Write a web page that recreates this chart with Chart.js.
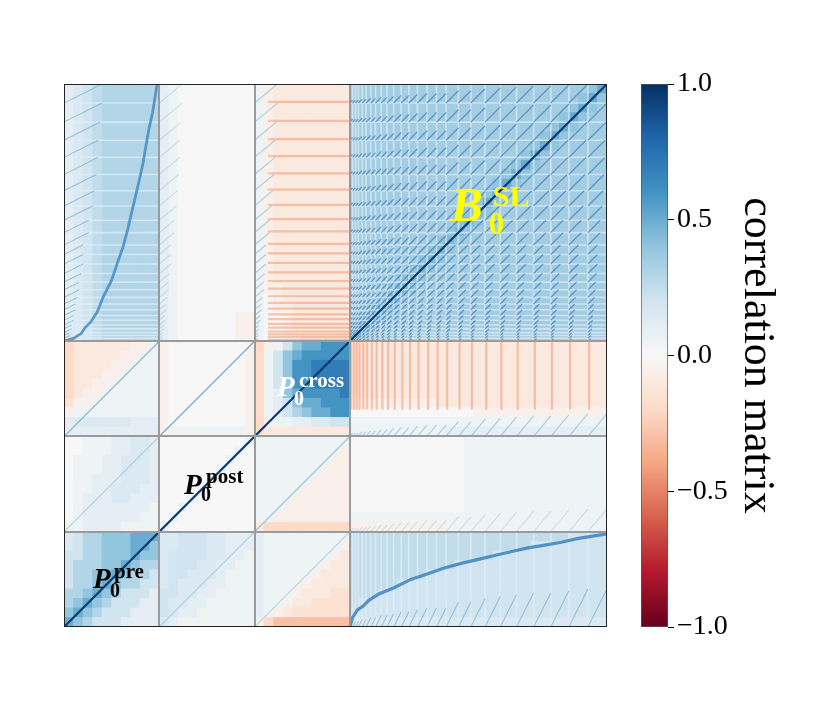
<!DOCTYPE html>
<html><head><meta charset="utf-8">
<script src="https://cdn.jsdelivr.net/npm/chart.js@4.4.1/dist/chart.umd.min.js"></script>
<style>
html,body{margin:0;padding:0;background:#fff;}
#wrap{position:relative;width:831px;height:704px;background:#fff;}
#c1{position:absolute;left:0;top:0;}
#c2{position:absolute;left:620px;top:0;}
</style></head><body>
<div id="wrap"><canvas id="c1" width="620" height="704"></canvas><canvas id="c2" width="211" height="704"></canvas></div>
<script>
// ---------------- data ----------------
const blockNames = ['pre', 'post', 'cross', 'SL'];
const blockEdges = [0, 100, 200, 300, 570];          // parameter index boundaries
const slSizes = [3,3,3,4,4,5,5,6,6,7,8,8,9,10,10,10,13,13,15,16,17,18,18,19,20,20]; // SL sub-blocks
const cellSize = 10;
// ridge of strong SL-pre correlation: [SL index, pre index]
const bandCurve = [[300,0],[303,10],[308,18],[314,22],[320,28],[331,35],[346,41],[364,50],[382,56],[399,62],
  [418,67],[435,71],[452,75],[469,79],[487,83],[505,86],[522,89],[540,93],[565,97],[570,98]];
// correlation levels (row strings, top row first; blocks pre | post | cross | SL)
const levelCodes = {'0':0, '.':0.05, '1':0.1, 'h':0.15, '2':0.2, 'j':0.25, '3':0.3, 'k':0.35, '4':0.4, 'm':0.45,
  '5':0.5, '6':0.6, '7':0.7, '8':0.8, '9':0.9, 'X':1, ',':-0.05, 'a':-0.1, 'q':-0.15, 'b':-0.2, 'c':-0.3, 'd':-0.4};
const rowsSL = [
"1h2j333333 1.00000000 .,aaaaaaaa kkkkkkkkk kkkkkkkkk kkkkkkk45",
"1h2j333333 1.00000000 .,aaaaaaaa kkkkkkkkk kkkkkkkkk kkkkkk454",
"1h2j333333 1.00000000 .,aaaaaaaa kkkkkkkkk kkkkkkkkk kkkkk454k",
"1h2j333333 1.00000000 .,aaaaaaaa kkkkkkkkk kkkkkkkkk kkkk454kk",
"1h2j333333 1.00000000 .,aaaaaaaa kkkkkkkkk kkkkkkkkk kkk454kkk",
"1h2j333333 1.00000000 .,aaaaaaaa kkkkkkkkk kkkkkkkkk kk454kkkk",
"1h2j333333 1.00000000 .,aaaaaaaa kkkkkkkkk kkkkkkkkk k454kkkkk",
"1h2j333333 1.00000000 .,aaaaaaaa kkkkkkkkk kkkkkkkkk 454kkkkkk",
"1h2j333333 1.00000000 .,aaaaaaaa kkkkkkkkk kkkkkkkk4 54kkkkkkk",
"1h2j333333 1.00000000 .,aaaaaaaa kkkkkkkkk kkkkkkk45 4kkkkkkkk",
"1h2j333333 1.00000000 .,aaaaaaaa kkkkkkkkk kkkkkk454 kkkkkkkkk",
"1h2j333333 1.00000000 .,aaaaaaaa kkkkkkkkk kkkkk454k kkkkkkkkk",
"1h2j333333 1.00000000 .,aaaaaaaa kkkkkkkkk kkkk454kk kkkkkkkkk",
"1h2j333333 1.00000000 .,aaaaaaaa kkkkkkkkk kkk4m4kkk kkkkkkkkk",
"1h2j333333 1.00000000 .,aaaaaaaa kkkkkkkkk kk4m4kkkk kkkkkkkkk",
"1h2j333333 1.00000000 .,aaaaaaaa kkkkkkkkk k4m4kkkkk kkkkkkkkk",
"1h2j333333 1.00000000 .,aaaaaaaa kkkkkkkkk 4m4kkkkkk kkkkkkkkk",
"1h2j333333 1.00000000 .,aaaaaaaa kkkkkkkk4 m4kkkkkkk kkkkkkkkk",
"1h2j333333 1.00000000 .,aaaaaaaa kkkkkkk4m 4kkkkkkkk kkkkkkkkk",
"1h2j333333 1.00000000 .,aaaaaaaa kkkkkk4m4 kkkkkkkkk kkkkkkkkk",
"1h2j333333 1.00000000 .,aaaaaaaa kkkkk4m4k kkkkkkkkk kkkkkkkkk",
"1h2j333333 1.00000000 .,,aaaaaaa kkkk4m4kk kkkkkkkkk kkkkkkkkk",
"1h2j333333 1.00000000 .0,aaaaaaa kkk4m4kkk kkkkkkkkk kkkkkkkkk",
"1h2j333333 1.00000000 .0,,aaaaaa kk4m4kkkk kkkkkkkkk kkkkkkkkk",
"1h2j333333 1.000000,, .00,aaaaaa k4m4kkkkk kkkkkkkkk kkkkkkkkk",
"1h2j333333 1.000000,, .00,aaaaaa 4m4kkkkkk kkkkkkkkk kkkkkkkkk",
"2h2j333333 1.000000,, .00,,aaaaa m4kkkkkkk kkkkkkkkk kkkkkkkkk"
];
const rowsCross = [
"baaaaaa,,. ,00000000, b,.2455666 aaaaaaaaa aaaaaaaaa aaaaaaaaa",
"baaaaa,,.. ,00000000, b.24566666 aaaaaaaaa aaaaaaaaa aaaaaaaaa",
"baaaa,,... ,00000000, b.24667777 aaaaaaaaa aaaaaaaaa aaaaaaaaa",
"baaa,,.... ,00000000, b.24667777 aaaaaaaaa aaaaaaaaa aaaaaaaaa",
"baa,,..... ,00000000, b.24667777 aaaaaaaaa aaaaaaaaa aaaaaaaaa",
"ba,,...... ,00000000, b.14566667 aaaaaaaaa aaaaaaaaa aaaaaaaaa",
"q,,....... ,00000000, b.12455666 ,,,,,,,,, aaaaaaaaa aaaaaaaaa",
",......... ,00000000, b.12345566 000000000 0000,,,,, ,,,,,,,,,",
"1hhhhhh111 ,00000000, b,..11hh22 ......... ......... .........",
"1111111111 ,........, baaaaaaaaa ......... .11111111 111111111"
];
const rowsPost = [
"00...11hh1 000000000. .......... 000000000 000...... .........",
"00...11hh1 00000000.0 ........., 000000000 000...... .........",
"0...11hhh1 0000000.00 ........,, 000000000 000...... .........",
"0...11hhh1 000000.000 .......,,, 000000000 000...... .........",
"0..111hhh1 00000.0000 ......,,,, 000000000 000...... .........",
"0..11hhh11 0000.00000 .....,,,,, 000000000 000...... .........",
"0.111hh111 000.000000 ....,,,,,, 000000000 000...... .........",
"0.1111111. 00.0000000 ...,,,,,,, 000000000 000...... .........",
"0.111111.. 0.00000000 ..,,,,,,,, ......... ......... .........",
"..1111.... .000000000 abbbbbbbbb ,,,,,,,,, ,........ ........."
];
const rowsPre = [
"h233444555 hh222hh111 1......... jjjjjjjjj jjjjjjjjj jjjjj2222",
"h233444554 hh222hh111 1........, jjjjjjjjj jjjjjjjjj j22222222",
"2233444544 h2222hh11. 1.......,a jjjjjjjjj jjjjjj222 222222222",
"2333445433 h222hh11.. 1......,aa jjjjjjjjj jj2222222 222222222",
"2334454332 h22hhh1... 1.....,aaa jjjjjjjj2 222222222 222222222",
"2334543322 h2hhh11... 1....,aaaa jjjjj2222 222222222 222222222",
"3345432221 22hh11.... 1...,aaaqq jjj222222 222222222 222222222",
"3454322211 2hh11..... 1..,aaqqqq j22222222 222222222 222222222",
"4543222111 2h11...... 1.,aqqqqqq 222222222 222222222 222222222",
"5432221111 h1........ ,bcccccccc hhhhhhhhh hhhhhhhhh hhhhhhhhh"
];
const cbRange = [-1, 1];
const cbTicks = [-1, -0.5, 0, 0.5, 1];

// ---------------- colour map (matplotlib RdBu) ----------------
const RDBU = ['#67001f','#b2182b','#d6604d','#f4a582','#fddbc7','#f7f7f7','#d1e5f0','#92c5de','#4393c3','#2166ac','#053061'];
const RDBU_RGB = RDBU.map(h => [parseInt(h.slice(1,3),16), parseInt(h.slice(3,5),16), parseInt(h.slice(5,7),16)]);
function rdbu(v) {
  let t = Math.max(0, Math.min(1, (v + 1) / 2)) * (RDBU_RGB.length - 1);
  let k = Math.min(Math.floor(t), RDBU_RGB.length - 2), f = t - k;
  const a = RDBU_RGB[k], b = RDBU_RGB[k + 1];
  return 'rgb(' + [0,1,2].map(c => Math.round(a[c] + (b[c] - a[c]) * f)).join(',') + ')';
}

// ---------------- cells ----------------
const allRows = [...rowsSL, ...rowsCross, ...rowsPost, ...rowsPre];
const N = allRows.length;
const cells = [];
allRows.forEach((row, r) => {
  const s = row.replace(/\s+/g, '');
  if (s.length !== N) console.warn('row', r, 'length', s.length);
  const i = N - 1 - r;
  for (let j = 0; j < N; j++) {
    const ch = s[j] !== undefined ? s[j] : '0';
    const v = levelCodes[ch] !== undefined ? levelCodes[ch] : 0;
    cells.push({x: j * cellSize + cellSize / 2, y: i * cellSize + cellSize / 2, v});
  }
});

// ---------------- overlay structures (from block / sub-block edges) ----------------
const slEdges = [blockEdges[3]];
slSizes.forEach(w => slEdges.push(slEdges[slEdges.length - 1] + w));
function segs(list) {
  const out = [];
  list.forEach(([x0, y0, x1, y1]) => { out.push({x: x0, y: y0}, {x: x1, y: y1}, {x: null, y: null}); });
  return out;
}
const lightSegs = [], redSegs = [], slDiagSegs = [];
const sideDiag = [[], [], []];
for (let k = 1; k < slEdges.length - 1; k++) {
  const e = slEdges[k];
  lightSegs.push([blockEdges[3], e, blockEdges[4], e], [blockEdges[0], e, blockEdges[1], e]);
  lightSegs.push([e, blockEdges[3], e, blockEdges[4]], [e, blockEdges[0], e, blockEdges[1]]);
}
for (let k = 0; k < slSizes.length; k++) {
  const e = slEdges[k] + 1.2;
  redSegs.push([214, e, blockEdges[3], e], [e, 228, e, blockEdges[3]]);
}
const sideStretch = [2, 1.2, 1.2];
for (let I = 0; I < slSizes.length; I++) {
  for (let J = 0; J < slSizes.length; J++) {
    if (I === J) continue;
    const L = Math.min(slSizes[I], slSizes[J]);
    slDiagSegs.push([slEdges[J], slEdges[I], slEdges[J] + L, slEdges[I] + L]);
  }
  for (let b = 0; b < 3; b++) {
    const w = slSizes[I], e = slEdges[I], s0 = blockEdges[b];
    sideDiag[b].push([s0, e, s0 + sideStretch[b] * w, e + w]);
    sideDiag[b].push([e, s0, e + w, s0 + sideStretch[b] * w]);
  }
}
const blockPairs = [[2,0],[0,2],[2,1],[1,2],[1,0],[0,1]]; // [rowBlock, colBlock]
const blockPairColors = ['rgba(67,147,195,0.6)','rgba(146,197,222,0.55)','rgba(50,130,190,0.65)',
  'rgba(110,175,212,0.65)','rgba(146,197,222,0.65)','rgba(146,197,222,0.65)'];

function lineDS(data, color, width, order) {
  return {data, showLine: true, borderColor: color, borderWidth: width, pointRadius: 0, pointHoverRadius: 0,
    fill: false, spanGaps: false, tension: 0, order, borderCapStyle: 'butt'};
}
const datasets = [];
datasets.push({
  data: cells, pointStyle: 'rect', order: 20,
  pointRadius: (ctx) => {
    const sx = ctx.chart.scales.x;
    const side = Math.abs(sx.getPixelForValue(cellSize) - sx.getPixelForValue(0));
    return (side + 0.7) / Math.SQRT2;
  },
  pointBackgroundColor: cells.map(c => rdbu(c.v)), pointBorderWidth: 0, pointHoverRadius: 0
});
datasets.push(lineDS(segs(lightSegs), 'rgba(226,238,246,0.7)', 1.6, 12));
datasets.push(lineDS(segs(redSegs), 'rgba(244,160,125,0.6)', 2.2, 11));
datasets.push(lineDS(segs(slDiagSegs), 'rgba(33,102,172,0.55)', 1.3, 10));
const sideColors = ['rgba(67,147,195,0.45)', 'rgba(146,197,222,0.45)', 'rgba(67,147,195,0.4)'];
sideDiag.forEach((list, b) => datasets.push(lineDS(segs(list), sideColors[b], 1.1, 9)));
blockPairs.forEach(([rb, cb], k) => {
  datasets.push(lineDS([{x: blockEdges[cb], y: blockEdges[rb]}, {x: blockEdges[cb + 1], y: blockEdges[rb + 1]}],
    blockPairColors[k], 1.2, 8));
});
datasets.push(lineDS(bandCurve.map(([s, p]) => ({x: p, y: s})), 'rgba(60,135,192,0.8)', 2.8, 7));
datasets.push(lineDS(bandCurve.map(([s, p]) => ({x: s, y: p})), 'rgba(50,125,188,0.8)', 3.2, 7));
datasets.push(lineDS([{x: blockEdges[0], y: blockEdges[0]}, {x: blockEdges[4], y: blockEdges[4]}], '#0b3a6e', 2.2, 5));

// ---------------- labels ----------------
const labelDefs = [
  {x: 406, y: 426, main: 'B', sup: 'SL', sub: '0', color: '#ffff00', mainSize: 48, supSize: 30, subSize: 31, supDx: 42, supDy: -15, subDx: 38, subDy: 13},
  {x: 223.6, y: 242.5, main: 'P', sup: 'cross', sub: '0', color: '#ffffff', mainSize: 29, supSize: 21, subSize: 20, supDx: 22, supDy: -9, subDx: 17, subDy: 9},
  {x: 126, y: 139.6, main: 'P', sup: 'post', sub: '0', color: '#000000', mainSize: 29, supSize: 21, subSize: 20, supDx: 22, supDy: -11, subDx: 17, subDy: 7},
  {x: 30.4, y: 40.9, main: 'P', sup: 'pre', sub: '0', color: '#000000', mainSize: 29, supSize: 21, subSize: 20, supDx: 21, supDy: -10, subDx: 17, subDy: 9}
];
const texPlugin = {
  id: 'texLabels',
  afterDraw(chart) {
    const {ctx, scales: {x, y}, chartArea: a} = chart;
    labelDefs.forEach(d => {
      const px = x.getPixelForValue(d.x), py = y.getPixelForValue(d.y);
      ctx.save();
      ctx.fillStyle = d.color; ctx.textBaseline = 'alphabetic'; ctx.textAlign = 'left';
      ctx.font = 'italic bold ' + d.mainSize + 'px "Liberation Serif"';
      ctx.fillText(d.main, px, py);
      ctx.font = 'bold ' + d.supSize + 'px "Liberation Serif"';
      ctx.fillText(d.sup, px + d.supDx, py + d.supDy);
      ctx.font = 'bold ' + d.subSize + 'px "Liberation Serif"';
      ctx.fillText(d.sub, px + d.subDx, py + d.subDy);
      ctx.restore();
    });
    ctx.save(); ctx.strokeStyle = '#222'; ctx.lineWidth = 1;
    ctx.strokeRect(Math.round(a.left) + 0.5, Math.round(a.top) + 0.5, Math.round(a.right - a.left) - 1, Math.round(a.bottom - a.top) - 1);
    ctx.restore();
  }
};

const sepAxis = (horizontal) => ({
  type: 'linear', min: blockEdges[0], max: blockEdges[4],
  afterBuildTicks: s => { s.ticks = blockEdges.slice(1, -1).map(v => ({value: v})); },
  ticks: {display: false},
  grid: {color: '#9b9b9b', lineWidth: 2, z: 1, drawTicks: false},
  border: {display: false},
  afterFit: s => { if (horizontal) s.height = 0; else s.width = 0; }
});

new Chart(document.getElementById('c1'), {
  type: 'scatter',
  data: {datasets},
  options: {
    responsive: false, animation: false, events: [],
    layout: {padding: {left: 64, top: 84, right: 13, bottom: 77}},
    plugins: {legend: {display: false}, tooltip: {enabled: false}},
    scales: {x: sepAxis(true), y: sepAxis(false)}
  },
  plugins: [texPlugin]
});

// ---------------- colour bar ----------------
new Chart(document.getElementById('c2'), {
  type: 'bar',
  data: {labels: [''], datasets: [{
    data: [[cbRange[0], cbRange[1]]],
    backgroundColor: (ctx) => {
      const chart = ctx.chart, ca = chart.chartArea;
      if (!ca) return '#f7f7f7';
      const g = chart.ctx.createLinearGradient(0, ca.bottom, 0, ca.top);
      RDBU.forEach((c, k) => g.addColorStop(k / (RDBU.length - 1), c));
      return g;
    },
    borderColor: '#555', borderWidth: 1, borderSkipped: false, barPercentage: 1, categoryPercentage: 1
  }]},
  options: {
    responsive: false, animation: false, events: [],
    layout: {padding: {left: 21, top: 84, bottom: 77, right: 48}},
    plugins: {legend: {display: false}, tooltip: {enabled: false}},
    scales: {
      x: {display: false},
      y: {
        position: 'right', min: cbRange[0], max: cbRange[1],
        afterBuildTicks: s => { s.ticks = cbTicks.map(v => ({value: v})); },
        ticks: {callback: v => (v < 0 ? '\u2212' : '') + Math.abs(v).toFixed(1),
          font: {family: 'Liberation Serif', size: 28}, color: '#000', padding: 3},
        grid: {drawOnChartArea: false, drawTicks: true, tickLength: 6, color: '#000', lineWidth: 1},
        border: {display: false},
        title: {display: true, text: 'correlation matrix', font: {family: 'Liberation Serif', size: 44}, color: '#000', padding: 0},
        afterFit: s => { s.width = 115; }
      }
    }
  }
});
</script></body></html>
